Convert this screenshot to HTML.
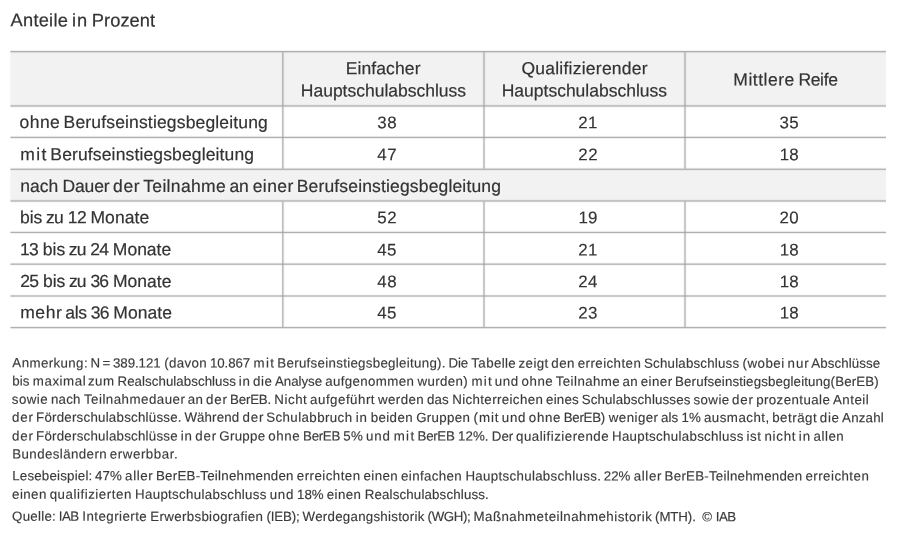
<!DOCTYPE html>
<html lang="de"><head><meta charset="utf-8"><title>Anteile in Prozent</title>
<style>
html,body{margin:0;padding:0;background:#fff}
body{width:900px;height:543px;position:relative;overflow:hidden;font-family:"Liberation Sans",sans-serif;color:#333}
#grid{position:absolute;left:0;top:0}
#wrap{position:absolute;left:0;top:0;width:900px;height:543px;background:#fff}
.t{position:absolute;left:0;top:0;white-space:pre;line-height:0;margin:0;font-weight:normal;transform-origin:0 0;-webkit-text-stroke:0.2px #333}
.t i{display:inline-block;height:40px;width:0}
.f1{font-size:18.3px}.f2{font-size:17.5px}.f3{font-size:13.3px;color:#3a3a3a;-webkit-text-stroke:0.15px #3a3a3a}.f4{font-size:16.9px;-webkit-text-stroke-width:0.15px}
</style></head><body>
<div id="wrap">
<svg id="grid" width="900" height="543" viewBox="0 0 900 543"><g fill="#f2f2f2"><rect x="10.4" y="51.59" width="875.6" height="54.41"/><rect x="10.4" y="169.25" width="875.6" height="31.75"/></g><g fill="#a0a0a0"><rect x="10.4" y="50" width="875.6" height="1" fill-opacity="0.13"/><rect x="10.4" y="51" width="875.6" height="1" fill-opacity="0.83"/><rect x="10.4" y="52" width="875.6" height="1" fill-opacity="0.28"/><rect x="10.4" y="53" width="875.6" height="1" fill-opacity="0.02"/><rect x="10.4" y="104" width="875.6" height="1" fill-opacity="0.06"/><rect x="10.4" y="105" width="875.6" height="1" fill-opacity="0.57"/><rect x="10.4" y="106" width="875.6" height="1" fill-opacity="0.57"/><rect x="10.4" y="107" width="875.6" height="1" fill-opacity="0.06"/><rect x="10.4" y="135" width="875.6" height="1" fill-opacity="0.02"/><rect x="10.4" y="136" width="875.6" height="1" fill-opacity="0.26"/><rect x="10.4" y="137" width="875.6" height="1" fill-opacity="0.83"/><rect x="10.4" y="138" width="875.6" height="1" fill-opacity="0.15"/><rect x="10.4" y="139" width="875.6" height="1" fill-opacity="0.01"/><rect x="10.4" y="167" width="875.6" height="1" fill-opacity="0.04"/><rect x="10.4" y="168" width="875.6" height="1" fill-opacity="0.39"/><rect x="10.4" y="169" width="875.6" height="1" fill-opacity="0.74"/><rect x="10.4" y="170" width="875.6" height="1" fill-opacity="0.09"/><rect x="10.4" y="199" width="875.6" height="1" fill-opacity="0.06"/><rect x="10.4" y="200" width="875.6" height="1" fill-opacity="0.57"/><rect x="10.4" y="201" width="875.6" height="1" fill-opacity="0.57"/><rect x="10.4" y="202" width="875.6" height="1" fill-opacity="0.06"/><rect x="10.4" y="230" width="875.6" height="1" fill-opacity="0.02"/><rect x="10.4" y="231" width="875.6" height="1" fill-opacity="0.24"/><rect x="10.4" y="232" width="875.6" height="1" fill-opacity="0.83"/><rect x="10.4" y="233" width="875.6" height="1" fill-opacity="0.16"/><rect x="10.4" y="234" width="875.6" height="1" fill-opacity="0.01"/><rect x="10.4" y="262" width="875.6" height="1" fill-opacity="0.05"/><rect x="10.4" y="263" width="875.6" height="1" fill-opacity="0.45"/><rect x="10.4" y="264" width="875.6" height="1" fill-opacity="0.69"/><rect x="10.4" y="265" width="875.6" height="1" fill-opacity="0.08"/><rect x="10.4" y="294" width="875.6" height="1" fill-opacity="0.06"/><rect x="10.4" y="295" width="875.6" height="1" fill-opacity="0.57"/><rect x="10.4" y="296" width="875.6" height="1" fill-opacity="0.57"/><rect x="10.4" y="297" width="875.6" height="1" fill-opacity="0.06"/><rect x="10.4" y="326" width="875.6" height="1" fill-opacity="0.12"/><rect x="10.4" y="327" width="875.6" height="1" fill-opacity="0.83"/><rect x="10.4" y="328" width="875.6" height="1" fill-opacity="0.28"/><rect x="10.4" y="329" width="875.6" height="1" fill-opacity="0.02"/><rect x="281" y="52.19" width="1" height="116.46" fill-opacity="0.08"/><rect x="281" y="201.6" width="1" height="125.4" fill-opacity="0.08"/><rect x="282" y="52.19" width="1" height="116.46" fill-opacity="0.67"/><rect x="282" y="201.6" width="1" height="125.4" fill-opacity="0.67"/><rect x="283" y="52.19" width="1" height="116.46" fill-opacity="0.46"/><rect x="283" y="201.6" width="1" height="125.4" fill-opacity="0.46"/><rect x="284" y="52.19" width="1" height="116.46" fill-opacity="0.05"/><rect x="284" y="201.6" width="1" height="125.4" fill-opacity="0.05"/><rect x="482" y="52.19" width="1" height="116.46" fill-opacity="0.06"/><rect x="482" y="201.6" width="1" height="125.4" fill-opacity="0.06"/><rect x="483" y="52.19" width="1" height="116.46" fill-opacity="0.57"/><rect x="483" y="201.6" width="1" height="125.4" fill-opacity="0.57"/><rect x="484" y="52.19" width="1" height="116.46" fill-opacity="0.57"/><rect x="484" y="201.6" width="1" height="125.4" fill-opacity="0.57"/><rect x="485" y="52.19" width="1" height="116.46" fill-opacity="0.06"/><rect x="485" y="201.6" width="1" height="125.4" fill-opacity="0.06"/><rect x="683" y="52.19" width="1" height="116.46" fill-opacity="0.06"/><rect x="683" y="201.6" width="1" height="125.4" fill-opacity="0.06"/><rect x="684" y="52.19" width="1" height="116.46" fill-opacity="0.57"/><rect x="684" y="201.6" width="1" height="125.4" fill-opacity="0.57"/><rect x="685" y="52.19" width="1" height="116.46" fill-opacity="0.57"/><rect x="685" y="201.6" width="1" height="125.4" fill-opacity="0.57"/><rect x="686" y="52.19" width="1" height="116.46" fill-opacity="0.06"/><rect x="686" y="201.6" width="1" height="125.4" fill-opacity="0.06"/></g></svg>
<h2 class="t f1" id="i0" style="transform:translate(10.58px,-13.64px) rotate(0.03deg)"><i></i><span style="letter-spacing:0.23px;word-spacing:-1.45px">Anteile </span><span style="letter-spacing:1px;word-spacing:-2.47px">in </span><span style="letter-spacing:0.06px">Prozent</span></h2>
<section id="table">
<div class="t f2" id="i1" style="transform:translate(345.7px,34.28px) rotate(0.03deg)"><i></i><span style="letter-spacing:0.11px">Einfacher</span></div>
<div class="t f2" id="i2" style="transform:translate(300.83px,56.46px) rotate(0.03deg)"><i></i><span style="letter-spacing:-0.01px">Hauptschulabschluss</span></div>
<div class="t f2" id="i3" style="transform:translate(521.47px,34.27px) rotate(0.03deg)"><i></i><span style="letter-spacing:0.24px">Qualifizierender</span></div>
<div class="t f2" id="i4" style="transform:translate(501.7px,56.46px) rotate(0.03deg)"><i></i><span style="letter-spacing:0px">Hauptschulabschluss</span></div>
<div class="t f2" id="i5" style="transform:translate(733.29px,45.57px) rotate(0.03deg)"><i></i><span style="letter-spacing:0.53px;word-spacing:-1.88px">Mittlere </span><span style="letter-spacing:-0.33px">Reife</span></div>
<div class="t f2" id="i6" style="transform:translate(19.64px,88.04px) rotate(0.03deg)"><i></i><span style="letter-spacing:0.42px;word-spacing:-1.93px">ohne </span><span style="letter-spacing:0.16px">Berufseinstiegsbegleitung</span></div>
<div class="t f4" id="i7" style="transform:translate(377.3px,88.25px) rotate(0.03deg)"><i></i><span style="letter-spacing:0.5px">38</span></div>
<div class="t f4" id="i8" style="transform:translate(578.3px,88.25px) rotate(0.03deg)"><i></i><span style="letter-spacing:0.3px">21</span></div>
<div class="t f4" id="i9" style="transform:translate(779.5px,88.25px) rotate(0.03deg)"><i></i><span style="letter-spacing:0.3px">35</span></div>
<div class="t f2" id="i10" style="transform:translate(20.36px,120.14px) rotate(0.03deg)"><i></i><span style="letter-spacing:1.33px;word-spacing:-3.53px">mit </span><span style="letter-spacing:0.14px">Berufseinstiegsbegleitung</span></div>
<div class="t f4" id="i11" style="transform:translate(377.3px,120.35px) rotate(0.03deg)"><i></i><span style="letter-spacing:0.5px">47</span></div>
<div class="t f4" id="i12" style="transform:translate(578.3px,120.35px) rotate(0.03deg)"><i></i><span style="letter-spacing:0.5px">22</span></div>
<div class="t f4" id="i13" style="transform:translate(779.7px,120.35px) rotate(0.03deg)"><i></i><span style="letter-spacing:0.3px">18</span></div>
<div class="t f2" id="i14" style="transform:translate(20.36px,151.87px) rotate(0.03deg)"><i></i><span style="letter-spacing:0.02px;word-spacing:-0.82px">nach </span><span style="letter-spacing:-0.1px;word-spacing:-1.31px">Dauer </span><span style="letter-spacing:0.65px;word-spacing:-2.58px">der </span><span style="letter-spacing:0.33px;word-spacing:-1.73px">Teilnahme </span><span style="letter-spacing:-0.25px;word-spacing:-0.3px">an </span><span style="letter-spacing:0.4px;word-spacing:-2.22px">einer </span><span style="letter-spacing:0.16px">Berufseinstiegsbegleitung</span></div>
<div class="t f2" id="i15" style="transform:translate(19.91px,183.17px) rotate(0.03deg)"><i></i><span style="letter-spacing:0.05px;word-spacing:-1.25px">bis </span><span style="letter-spacing:-0.85px;word-spacing:0.94px">zu </span><span style="letter-spacing:-0.65px;word-spacing:0.23px">12 </span><span style="letter-spacing:0.07px">Monate</span></div>
<div class="t f4" id="i16" style="transform:translate(377.3px,183.35px) rotate(0.03deg)"><i></i><span style="letter-spacing:0.5px">52</span></div>
<div class="t f4" id="i17" style="transform:translate(578.5px,183.35px) rotate(0.03deg)"><i></i><span style="letter-spacing:0.1px">19</span></div>
<div class="t f4" id="i18" style="transform:translate(779.5px,183.35px) rotate(0.03deg)"><i></i><span style="letter-spacing:0.3px">20</span></div>
<div class="t f2" id="i19" style="transform:translate(20.13px,215.26px) rotate(0.03deg)"><i></i><span style="letter-spacing:-0.9px;word-spacing:1.1px">13 </span><span style="letter-spacing:-0.01px;word-spacing:-1.26px">bis </span><span style="letter-spacing:-0.9px;word-spacing:0.92px">zu </span><span style="letter-spacing:-0.9px;word-spacing:0.8px">24 </span><span style="letter-spacing:0.01px">Monate</span></div>
<div class="t f4" id="i20" style="transform:translate(377.3px,215.45px) rotate(0.03deg)"><i></i><span style="letter-spacing:0.3px">45</span></div>
<div class="t f4" id="i21" style="transform:translate(578.3px,215.45px) rotate(0.03deg)"><i></i><span style="letter-spacing:0.3px">21</span></div>
<div class="t f4" id="i22" style="transform:translate(779.7px,215.45px) rotate(0.03deg)"><i></i><span style="letter-spacing:0.3px">18</span></div>
<div class="t f2" id="i23" style="transform:translate(20.37px,247.06px) rotate(0.03deg)"><i></i><span style="letter-spacing:-0.9px;word-spacing:1px">25 </span><span style="letter-spacing:-0.01px;word-spacing:-1.26px">bis </span><span style="letter-spacing:-0.9px;word-spacing:0.92px">zu </span><span style="letter-spacing:-0.9px;word-spacing:0.8px">36 </span><span style="letter-spacing:0.01px">Monate</span></div>
<div class="t f4" id="i24" style="transform:translate(377.3px,247.25px) rotate(0.03deg)"><i></i><span style="letter-spacing:0.5px">48</span></div>
<div class="t f4" id="i25" style="transform:translate(578.3px,247.25px) rotate(0.03deg)"><i></i><span style="letter-spacing:0.3px">24</span></div>
<div class="t f4" id="i26" style="transform:translate(779.7px,247.25px) rotate(0.03deg)"><i></i><span style="letter-spacing:0.3px">18</span></div>
<div class="t f2" id="i27" style="transform:translate(20.15px,278.36px) rotate(0.03deg)"><i></i><span style="letter-spacing:0.6px;word-spacing:-2.64px">mehr </span><span style="letter-spacing:-0.27px;word-spacing:-0.6px">als </span><span style="letter-spacing:-0.87px;word-spacing:0.83px">36 </span><span style="letter-spacing:0.05px">Monate</span></div>
<div class="t f4" id="i28" style="transform:translate(377.3px,278.55px) rotate(0.03deg)"><i></i><span style="letter-spacing:0.3px">45</span></div>
<div class="t f4" id="i29" style="transform:translate(578.3px,278.55px) rotate(0.03deg)"><i></i><span style="letter-spacing:0.3px">23</span></div>
<div class="t f4" id="i30" style="transform:translate(779.7px,278.55px) rotate(0.03deg)"><i></i><span style="letter-spacing:0.3px">18</span></div>
</section>
<section id="notes">
<p class="t f3" id="i31" style="transform:translate(12.39px,327.37px) rotate(0.03deg)"><i></i><span style="letter-spacing:0.39px;word-spacing:-1.67px">Anmerkung: </span><span style="letter-spacing:0px;word-spacing:-1.09px">N </span><span style="letter-spacing:0px;word-spacing:-1.05px">= </span><span style="letter-spacing:-0.07px;word-spacing:0.02px">389.121 </span><span style="letter-spacing:0.35px;word-spacing:-1.06px">(davon </span><span style="letter-spacing:-0.09px;word-spacing:-0.25px">10.867 </span><span style="letter-spacing:1.33px;word-spacing:-2.92px">mit </span><span style="letter-spacing:0.3px;word-spacing:-1.27px">Berufseinstiegsbegleitung). </span><span style="letter-spacing:-0.17px;word-spacing:-0.18px">Die </span><span style="letter-spacing:0.37px;word-spacing:-1.58px">Tabelle </span><span style="letter-spacing:0.38px;word-spacing:-1.4px">zeigt </span><span style="letter-spacing:0.53px;word-spacing:-1.48px">den </span><span style="letter-spacing:0.43px;word-spacing:-1.29px">erreichten </span><span style="letter-spacing:0.2px;word-spacing:-0.66px">Schulabschluss </span><span style="letter-spacing:0.51px;word-spacing:-1.37px">(wobei </span><span style="letter-spacing:0.93px;word-spacing:-2.86px">nur </span><span style="letter-spacing:0.08px">Abschlüsse</span></p>
<p class="t f3" id="i32" style="transform:translate(12.17px,345.57px) rotate(0.03deg)"><i></i><span style="letter-spacing:0.16px;word-spacing:-0.68px">bis </span><span style="letter-spacing:0.56px;word-spacing:-2.61px">maximal </span><span style="letter-spacing:0.56px;word-spacing:-1.43px">zum </span><span style="letter-spacing:0.05px;word-spacing:-0.89px">Realschulabschluss </span><span style="letter-spacing:0.76px;word-spacing:-2.07px">in </span><span style="letter-spacing:0.56px;word-spacing:-1.85px">die </span><span style="letter-spacing:-0.01px;word-spacing:-0.69px">Analyse </span><span style="letter-spacing:0.38px;word-spacing:-0.99px">aufgenommen </span><span style="letter-spacing:0.39px;word-spacing:-0.86px">wurden) </span><span style="letter-spacing:1.26px;word-spacing:-3.13px">mit </span><span style="letter-spacing:0.66px;word-spacing:-1.77px">und </span><span style="letter-spacing:0.56px;word-spacing:-1.88px">ohne </span><span style="letter-spacing:0.43px;word-spacing:-1.71px">Teilnahme </span><span style="letter-spacing:0.16px;word-spacing:-0.92px">an </span><span style="letter-spacing:0.46px;word-spacing:-1.61px">einer </span><span style="letter-spacing:0.13px">Berufseinstiegsbegleitung(BerEB)</span></p>
<p class="t f3" id="i33" style="transform:translate(11.83px,363.78px) rotate(0.03deg)"><i></i><span style="letter-spacing:0.44px;word-spacing:-1.25px">sowie </span><span style="letter-spacing:0.24px;word-spacing:-0.68px">nach </span><span style="letter-spacing:0.48px;word-spacing:-1.73px">Teilnahmedauer </span><span style="letter-spacing:0.24px;word-spacing:-0.91px">an </span><span style="letter-spacing:0.84px;word-spacing:-2.25px">der </span><span style="letter-spacing:-0.2px;word-spacing:-0.16px">BerEB. </span><span style="letter-spacing:0.54px;word-spacing:-1.49px">Nicht </span><span style="letter-spacing:0.51px;word-spacing:-1.33px">aufgeführt </span><span style="letter-spacing:0.44px;word-spacing:-1.37px">werden </span><span style="letter-spacing:0.14px;word-spacing:-0.5px">das </span><span style="letter-spacing:0.38px;word-spacing:-1.17px">Nichterreichen </span><span style="letter-spacing:0.19px;word-spacing:-1.08px">eines </span><span style="letter-spacing:0.15px;word-spacing:-0.94px">Schulabschlusses </span><span style="letter-spacing:0.44px;word-spacing:-1.65px">sowie </span><span style="letter-spacing:0.84px;word-spacing:-2.25px">der </span><span style="letter-spacing:0.42px;word-spacing:-1.44px">prozentuale </span><span style="letter-spacing:0.52px">Anteil</span></p>
<p class="t f3" id="i34" style="transform:translate(11.98px,381.72px) rotate(0.03deg)"><i></i><span style="letter-spacing:0.85px;word-spacing:-2.26px">der </span><span style="letter-spacing:0.24px;word-spacing:-1.25px">Förderschulabschlüsse. </span><span style="letter-spacing:0.12px;word-spacing:-0.54px">Während </span><span style="letter-spacing:0.85px;word-spacing:-2.66px">der </span><span style="letter-spacing:0.42px;word-spacing:-0.93px">Schulabbruch </span><span style="letter-spacing:0.85px;word-spacing:-1.66px">in </span><span style="letter-spacing:0.41px;word-spacing:-0.93px">beiden </span><span style="letter-spacing:0.32px;word-spacing:-0.67px">Gruppen </span><span style="letter-spacing:0.92px;word-spacing:-2.25px">(mit </span><span style="letter-spacing:0.75px;word-spacing:-1.79px">und </span><span style="letter-spacing:0.65px;word-spacing:-1.66px">ohne </span><span style="letter-spacing:-0.27px;word-spacing:0.45px">BerEB) </span><span style="letter-spacing:0.42px;word-spacing:-1.44px">weniger </span><span style="letter-spacing:0.05px;word-spacing:-0.46px">als </span><span style="letter-spacing:0.05px;word-spacing:-0.58px">1% </span><span style="letter-spacing:0.48px;word-spacing:-1.63px">ausmacht, </span><span style="letter-spacing:0.52px;word-spacing:-1.57px">beträgt </span><span style="letter-spacing:0.65px;word-spacing:-1.85px">die </span><span style="letter-spacing:0.21px">Anzahl</span></p>
<p class="t f3" id="i35" style="transform:translate(11.98px,400.38px) rotate(0.03deg)"><i></i><span style="letter-spacing:0.86px;word-spacing:-2.27px">der </span><span style="letter-spacing:0.24px;word-spacing:-0.98px">Förderschulabschlüsse </span><span style="letter-spacing:0.86px;word-spacing:-2.07px">in </span><span style="letter-spacing:0.86px;word-spacing:-2.45px">der </span><span style="letter-spacing:0.3px;word-spacing:-1.26px">Gruppe </span><span style="letter-spacing:0.66px;word-spacing:-1.68px">ohne </span><span style="letter-spacing:-0.29px;word-spacing:-0.3px">BerEB </span><span style="letter-spacing:0.46px;word-spacing:-1.38px">5% </span><span style="letter-spacing:0.76px;word-spacing:-1.37px">und </span><span style="letter-spacing:1.36px;word-spacing:-2.94px">mit </span><span style="letter-spacing:-0.29px;word-spacing:0.1px">BerEB </span><span style="letter-spacing:0.06px;word-spacing:-0.51px">12%. </span><span style="letter-spacing:-0.04px;word-spacing:-0.78px">Der </span><span style="letter-spacing:0.49px;word-spacing:-1.33px">qualifizierende </span><span style="letter-spacing:0.32px;word-spacing:-1.11px">Hauptschulabschluss </span><span style="letter-spacing:0.46px;word-spacing:-1.02px">ist </span><span style="letter-spacing:0.76px;word-spacing:-1.95px">nicht </span><span style="letter-spacing:0.86px;word-spacing:-1.87px">in </span><span style="letter-spacing:0.51px">allen</span></p>
<p class="t f3" id="i36" style="transform:translate(12.26px,418.46px) rotate(0.03deg)"><i></i><span style="letter-spacing:0.41px;word-spacing:-1.32px">Bundesländern </span><span style="letter-spacing:0.56px">erwerbbar.</span></p>
<p class="t f3" id="i37" style="transform:translate(12.26px,440.18px) rotate(0.03deg)"><i></i><span style="letter-spacing:0.2px;word-spacing:-1.36px">Lesebeispiel: </span><span style="letter-spacing:0.07px;word-spacing:-0.49px">47% </span><span style="letter-spacing:0.62px;word-spacing:-1.71px">aller </span><span style="letter-spacing:0.25px;word-spacing:-0.93px">BerEB-Teilnehmenden </span><span style="letter-spacing:0.47px;word-spacing:-1.32px">erreichten </span><span style="letter-spacing:0.42px;word-spacing:-1.15px">einen </span><span style="letter-spacing:0.37px;word-spacing:-0.71px">einfachen </span><span style="letter-spacing:0.32px;word-spacing:-1.54px">Hauptschulabschluss. </span><span style="letter-spacing:0.07px;word-spacing:-0.49px">22% </span><span style="letter-spacing:0.62px;word-spacing:-1.71px">aller </span><span style="letter-spacing:0.25px;word-spacing:-0.94px">BerEB-Teilnehmenden </span><span style="letter-spacing:0.47px">erreichten</span></p>
<p class="t f3" id="i38" style="transform:translate(12.12px,458.78px) rotate(0.03deg)"><i></i><span style="letter-spacing:0.41px;word-spacing:-1.15px">einen </span><span style="letter-spacing:0.54px;word-spacing:-1.06px">qualifizierten </span><span style="letter-spacing:0.32px;word-spacing:-1.1px">Hauptschulabschluss </span><span style="letter-spacing:0.76px;word-spacing:-1.58px">und </span><span style="letter-spacing:-0.04px;word-spacing:-0.48px">18% </span><span style="letter-spacing:0.41px;word-spacing:-0.75px">einen </span><span style="letter-spacing:0.16px">Realschulabschluss.</span></p>
<p class="t f3" id="i39" style="transform:translate(12.06px,480.81px) rotate(0.03deg)"><i></i><span style="letter-spacing:0.27px;word-spacing:-1.31px">Quelle: </span><span style="letter-spacing:-0.46px;word-spacing:0.27px">IAB </span><span style="letter-spacing:0.46px;word-spacing:-1.14px">Integrierte </span><span style="letter-spacing:0.34px;word-spacing:-0.63px">Erwerbsbiografien </span><span style="letter-spacing:-0.2px;word-spacing:-0.28px">(IEB); </span><span style="letter-spacing:0.26px;word-spacing:-0.9px">Werdegangshistorik </span><span style="letter-spacing:-0.4px;word-spacing:-0.09px">(WGH); </span><span style="letter-spacing:0.47px;word-spacing:-1.35px">Maßnahmeteilnahmehistorik </span><span style="letter-spacing:-0.12px;word-spacing:-0.36px">(MTH).  </span><span style="letter-spacing:0px;word-spacing:0.04px">© </span><span style="letter-spacing:-0.46px">IAB</span></p>
</section>
</div>
</body></html>
